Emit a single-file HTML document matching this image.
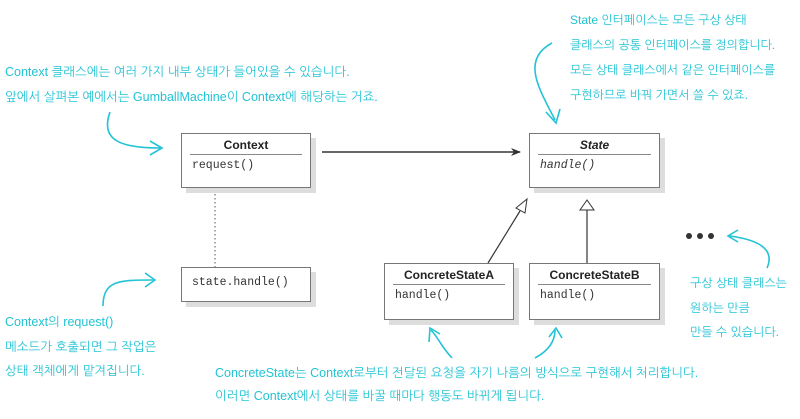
<!DOCTYPE html>
<html><head><meta charset="utf-8"><style>
body{margin:0;width:800px;height:419px;background:#fff;position:relative;overflow:hidden;font-family:"Liberation Sans",sans-serif}
.t{position:absolute;color:#22c3d4;font-family:"Liberation Sans","NanumGothic","Noto Sans CJK KR",sans-serif;font-size:12.5px;white-space:nowrap;line-height:24.5px}
.box{position:absolute;background:#fff;border:1px solid #777;box-shadow:5px 5px 0 #ddd}
.hd{font-weight:bold;font-size:12px;text-align:center;margin:4px 8px 0;padding-bottom:2px;border-bottom:1px solid #888;color:#222}
.m{font-family:"Liberation Mono",monospace;font-size:11.5px;color:#333;padding:4px 0 0 10px}
</style></head><body>
<svg width="800" height="419" style="position:absolute;left:0;top:0">
<defs><marker id="ah" markerWidth="10" markerHeight="8" refX="9" refY="4" orient="auto" markerUnits="userSpaceOnUse"><path d="M0,0 L10,4 L0,8 L3,4z" fill="#333"/></marker></defs>
<line x1="322" y1="152" x2="520" y2="152" stroke="#333" stroke-width="1.5" marker-end="url(#ah)"/>
<line x1="215" y1="178" x2="215" y2="267" stroke="#555" stroke-dasharray="1.5,2.5"/>
<line x1="488" y1="263" x2="520" y2="211" stroke="#333" stroke-width="1.2"/>
<polygon points="527,199 516,208 525,213" fill="#fff" stroke="#333"/>
<line x1="587" y1="263" x2="587" y2="210" stroke="#333" stroke-width="1.2"/>
<polygon points="587,200 580,210 594,210" fill="#fff" stroke="#333"/>
<circle cx="689" cy="236" r="3" fill="#333"/><circle cx="700" cy="236" r="3" fill="#333"/><circle cx="711" cy="236" r="3" fill="#333"/>
<g fill="none" stroke="#22c3d4" stroke-width="1.6">
<path d="M110,112 C100,140 120,148 160,148"/><path d="M150,141 L162,148 L150,155"/>
<path d="M103,306 C103,280 120,280 153,280"/><path d="M145,273 L155,280 L145,287"/>
<path d="M552,43 C520,60 540,90 555,120"/><path d="M546,112 L556,123 L560,109"/>
<path d="M767,268 C775,250 760,240 730,236"/><path d="M738,230 L728,236 L738,242"/>
<path d="M452,358 C440,345 440,340 431,330"/><path d="M429,342 L430,328 L440,334"/>
<path d="M535,358 C550,350 555,340 555,330"/><path d="M549,337 L556,328 L562,338"/>
</g></svg>
<div class="box" style="left:181px;top:133px;width:128px;height:53px"><div class="hd">Context</div><div class="m">request()</div></div>
<div class="box" style="left:529px;top:133px;width:129px;height:53px"><div class="hd"><i>State</i></div><div class="m"><i>handle()</i></div></div>
<div class="box" style="left:181px;top:267px;width:128px;height:33px"><div class="m" style="padding-top:8px">state.handle()</div></div>
<div class="box" style="left:384px;top:263px;width:128px;height:55px"><div class="hd">ConcreteStateA</div><div class="m">handle()</div></div>
<div class="box" style="left:529px;top:263px;width:129px;height:55px"><div class="hd">ConcreteStateB</div><div class="m">handle()</div></div>
<div class="t" style="left:5px;top:60px">Context 클래스에는 여러 가지 내부 상태가 들어있을 수 있습니다.<br>앞에서 살펴본 예에서는 GumballMachine이 Context에 해당하는 거죠.</div>
<div class="t" style="left:570px;top:8px;font-size:12px;line-height:25px">State 인터페이스는 모든 구상 상태<br>클래스의 공통 인터페이스를 정의합니다.<br>모든 상태 클래스에서 같은 인터페이스를<br>구현하므로 바꿔 가면서 쓸 수 있죠.</div>
<div class="t" style="left:5px;top:310px">Context의 request()<br>메소드가 호출되면 그 작업은<br>상태 객체에게 맡겨집니다.</div>
<div class="t" style="left:690px;top:271px;font-size:12px">구상 상태 클래스는<br>원하는 만큼<br>만들 수 있습니다.</div>
<div class="t" style="left:215px;top:362px;line-height:23px">ConcreteState는 Context로부터 전달된 요청을 자기 나름의 방식으로 구현해서 처리합니다.<br>이러면 Context에서 상태를 바꿀 때마다 행동도 바뀌게 됩니다.</div>
</body></html>
